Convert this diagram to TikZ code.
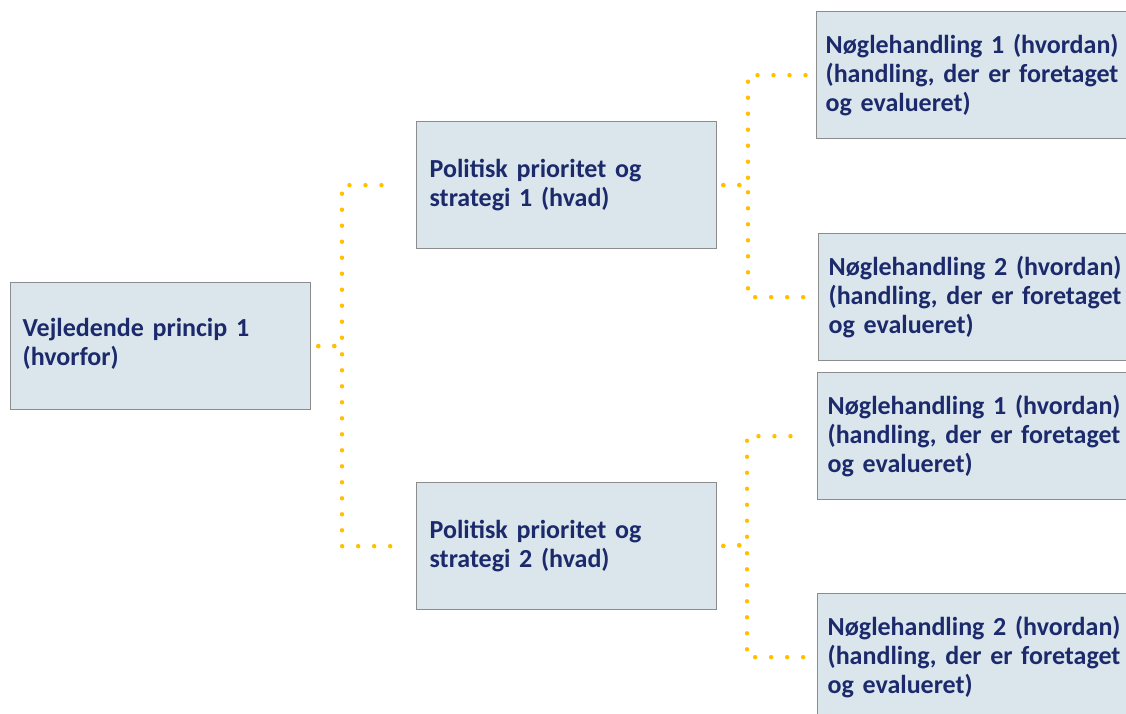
\documentclass[tikz,border=0pt]{standalone}
\usepackage{fontspec}
\setmainfont{Carlito}[WordSpace=0.85]
\usetikzlibrary{calc}
\definecolor{txtblue}{RGB}{28,42,108}
\definecolor{boxfill}{RGB}{218,230,236}
\definecolor{boxline}{RGB}{140,140,140}
\definecolor{gold}{RGB}{255,192,0}
\tikzset{
  box/.style={draw=boxline, line width=1.3pt, fill=boxfill, anchor=north west,
    minimum height=127pt, align=left, text=txtblue, inner ysep=0pt,
    font=\fontsize{26}{29}\selectfont\bfseries},
  dotline/.style={draw=gold, line width=4.4pt, line cap=round, dash pattern=on 0pt off 16pt}
}
\begin{document}
\begin{tikzpicture}[x=1pt,y=-1pt]
\useasboundingbox (0,0) rectangle (1126,714);
\clip (0,0) rectangle (1126,714);
\node[box, inner xsep=12pt, text width=276pt] (root) at (10,282) {Vejledende princip 1\\(hvorfor)\vspace*{4pt}};
\node[box, inner xsep=13pt, text width=274pt] (p1) at (416,121) {Politisk prioritet og\\strategi 1 (hvad)};
\node[box, inner xsep=13pt, text width=274pt] (p2) at (416,482) {Politisk prioritet og\\strategi 2 (hvad)};
\node[box, inner xsep=9pt, text width=310pt] (n1a) at (816,11) {Nøglehandling 1 (hvordan)\\(handling, der er foretaget\\og evalueret)};
\node[box, inner xsep=10pt, text width=310pt] (n2a) at (818,233) {Nøglehandling 2 (hvordan)\\(handling, der er foretaget\\og evalueret)};
\node[box, inner xsep=10pt, text width=310pt] (n1b) at (817,372) {Nøglehandling 1 (hvordan)\\(handling, der er foretaget\\og evalueret)};
\node[box, inner xsep=10pt, text width=310pt] (n2b) at (817,593) {Nøglehandling 2 (hvordan)\\(handling, der er foretaget\\og evalueret)};
\coordinate (j0) at (342,346);
\coordinate (j1) at (748,185);
\coordinate (j2) at (747,545);
\draw[dotline, shorten <=7pt, shorten >=22pt] (root.east) -- (j0) |- (p1.west);
\draw[dotline, shorten <=7pt, shorten >=14pt] (root.east) -- (j0) |- (p2.west);
\draw[dotline, shorten <=6pt, shorten >=10pt] (p1.east) -- (j1) |- (n1a.west);
\draw[dotline, shorten <=6pt, shorten >=10pt] (p1.east) -- (j1) |- (n2a.west);
\draw[dotline, shorten <=6pt, shorten >=12pt] (p2.east) -- (j2) |- (n1b.west);
\draw[dotline, shorten <=6pt, shorten >=12pt] (p2.east) -- (j2) |- (n2b.west);
\end{tikzpicture}
\end{document}
